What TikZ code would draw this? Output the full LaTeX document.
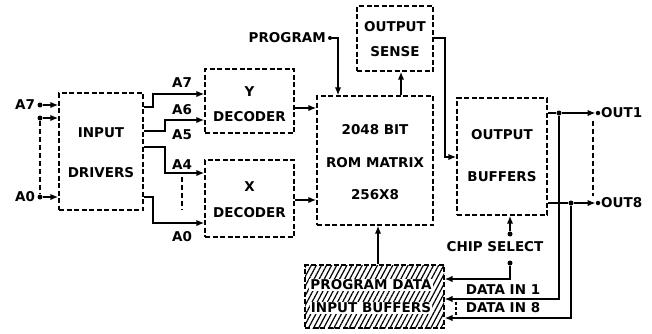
\documentclass[tikz,border=0pt]{standalone}
\usepackage{fontspec}
\setmainfont{DejaVu Sans}
\usetikzlibrary{arrows.meta,patterns.meta,calc}
\begin{document}
\begin{tikzpicture}[x=1pt,y=-1pt,
  font=\bfseries\fontsize{13.5}{13.5}\selectfont,
  blk/.style={draw,line width=1.4pt,dash pattern=on 5pt off 2.5pt,minimum width=#1,inner sep=0pt},
  lbl/.style={inner sep=0pt,anchor=center},
  conn/.style={line width=1.6pt},
  arr/.style={conn,-{Latex[length=8pt,width=6.5pt]}},
  dot/.style={circle,fill=black,inner sep=0pt,minimum size=5pt},
  dsh/.style={line width=1.5pt,dash pattern=on 5pt off 3pt}]
\useasboundingbox (0,0) rectangle (652,333);
% blocks
\node[blk=84pt,minimum height=117pt] (drv) at (101,151.5) {};
\node[blk=89pt,minimum height=64pt] (ydec) at (249.5,101) {};
\node[blk=89pt,minimum height=77pt] (xdec) at (249.5,198.5) {};
\node[blk=116pt,minimum height=129pt] (rom) at (375,160.5) {};
\node[blk=76pt,minimum height=65pt] (sense) at (395,38.5) {};
\node[blk=90pt,minimum height=117pt] (obuf) at (502,156.5) {};
\node[blk=139pt,minimum height=63pt,pattern={Lines[angle=62,distance=4.5pt,line width=1.2pt]}] (pdata) at (374.5,296.5) {};
% block texts
\node[lbl] (t1) at (101,133) {INPUT};
\node[lbl] (t2) at (101,173) {DRIVERS};
\node[lbl] (t3) at (249.5,92) {Y};
\node[lbl] (t4) at (249.5,117) {DECODER};
\node[lbl] (t5) at (249.5,187) {X};
\node[lbl] (t6) at (249.5,213) {DECODER};
\node[lbl] (t7) at (375,130) {2048 BIT};
\node[lbl] (t8) at (375,163) {ROM MATRIX};
\node[lbl] (t9) at (375,195) {256X8};
\node[lbl] (t10) at (395,27) {OUTPUT};
\node[lbl] (t11) at (395,52) {SENSE};
\node[lbl] (t12) at (502,135) {OUTPUT};
\node[lbl] (t13) at (502,177) {BUFFERS};
\node[lbl,fill=white,inner sep=1.2pt] (t14) at (371,285) {PROGRAM DATA};
\node[lbl,fill=white,inner sep=1.2pt] (t15) at (371,308) {INPUT BUFFERS};
% inputs
\node[lbl] (la7) at (25,105) {A7};
\node[lbl] (la0) at (25,197) {A0};
\node[dot] (d1) at (40,105) {};
\node[dot] (d2) at (40,118) {};
\node[dot] (d3) at (40,197) {};
\draw[arr] (d1) -- (d1 -| drv.west);
\draw[arr] (d2) -- (d2 -| drv.west);
\draw[arr] (d3) -- (d3 -| drv.west);
\draw[dsh] (d2.south) -- (d3.north);
% drivers to decoders
\draw[arr] (drv.east |- 0,107) -- (153,107) |- (ydec.west |- 0,94);
\draw[arr] (drv.east |- 0,131) -- (165,131) |- (ydec.west |- 0,120);
\draw[arr] (drv.east |- 0,147) -- (165,147) |- (xdec.west |- 0,173);
\draw[arr] (drv.east |- 0,197) -- (153,197) |- (xdec.west |- 0,223);
\coordinate (q1) at (182,177);
\coordinate (q2) at (182,210);
\draw[dsh] (q1) -- (q2);
\node[lbl] (a7) at (182,83) {A7};
\node[lbl] (a6) at (182,110) {A6};
\node[lbl] (a5) at (182,135) {A5};
\node[lbl] (a4) at (182,165) {A4};
\node[lbl] (a0) at (182,237) {A0};
% decoders to ROM
\draw[arr] (ydec.east |- 0,108) -- (rom.west |- 0,108);
\draw[arr] (xdec.east |- 0,200) -- (rom.west |- 0,200);
% program
\node[lbl,anchor=east] (prog) at (326,38) {PROGRAM};
\node[dot,minimum size=4pt] (pd) at (330,38) {};
\draw[arr] (pd) -- (338,38) -- (rom.north -| 338,0);
% ROM to sense
\draw[arr] (rom.north -| 401,0) -- (sense.south -| 401,0);
% sense to output buffers
\draw[arr] (sense.east |- 0,38) -- (445,38) |- (obuf.west |- 0,157);
% outputs
\node[dot] (j1) at (559,113) {};
\node[dot] (j2) at (571,203) {};
\node[dot,minimum size=4.5pt] (o1) at (598,113) {};
\node[dot,minimum size=4.5pt] (o8) at (598,203) {};
\draw[conn] (obuf.east |- j1) -- (j1);
\draw[conn] (obuf.east |- j2) -- (j2);
\draw[arr] (j1) -- (o1.west);
\draw[arr] (j2) -- (o8.west);
\node[lbl,anchor=west] (out1) at (601,113) {OUT1};
\node[lbl,anchor=west] (out8) at (601,203) {OUT8};
\coordinate (q3) at (593,121);
\coordinate (q4) at (593,196);
\draw[dsh] (q3) -- (q4);
% chip select
\node[dot] (cs1) at (510,234) {};
\node[dot] (cs2) at (510,263) {};
\draw[arr] (cs1) -- (obuf.south -| cs1);
\node[lbl] (csl) at (495,247) {CHIP SELECT};
\draw[arr] (cs2) -- (510,279) -- (pdata.east |- 0,279);
% data in
\draw[arr] (j1) -- (559,299) -- (pdata.east |- 0,299);
\draw[arr] (j2) -- (571,318) -- (pdata.east |- 0,318);
\node[lbl] (di1) at (503,290) {DATA IN 1};
\node[lbl] (di8) at (503,308) {DATA IN 8};
\coordinate (q5) at (456,302);
\coordinate (q6) at (456,315);
\draw[line width=1.2pt,dash pattern=on 3pt off 2pt] (q5) -- (q6);
% program data to ROM
\draw[arr] (pdata.north -| 378,0) -- (rom.south -| 378,0);
\end{tikzpicture}
\end{document}
